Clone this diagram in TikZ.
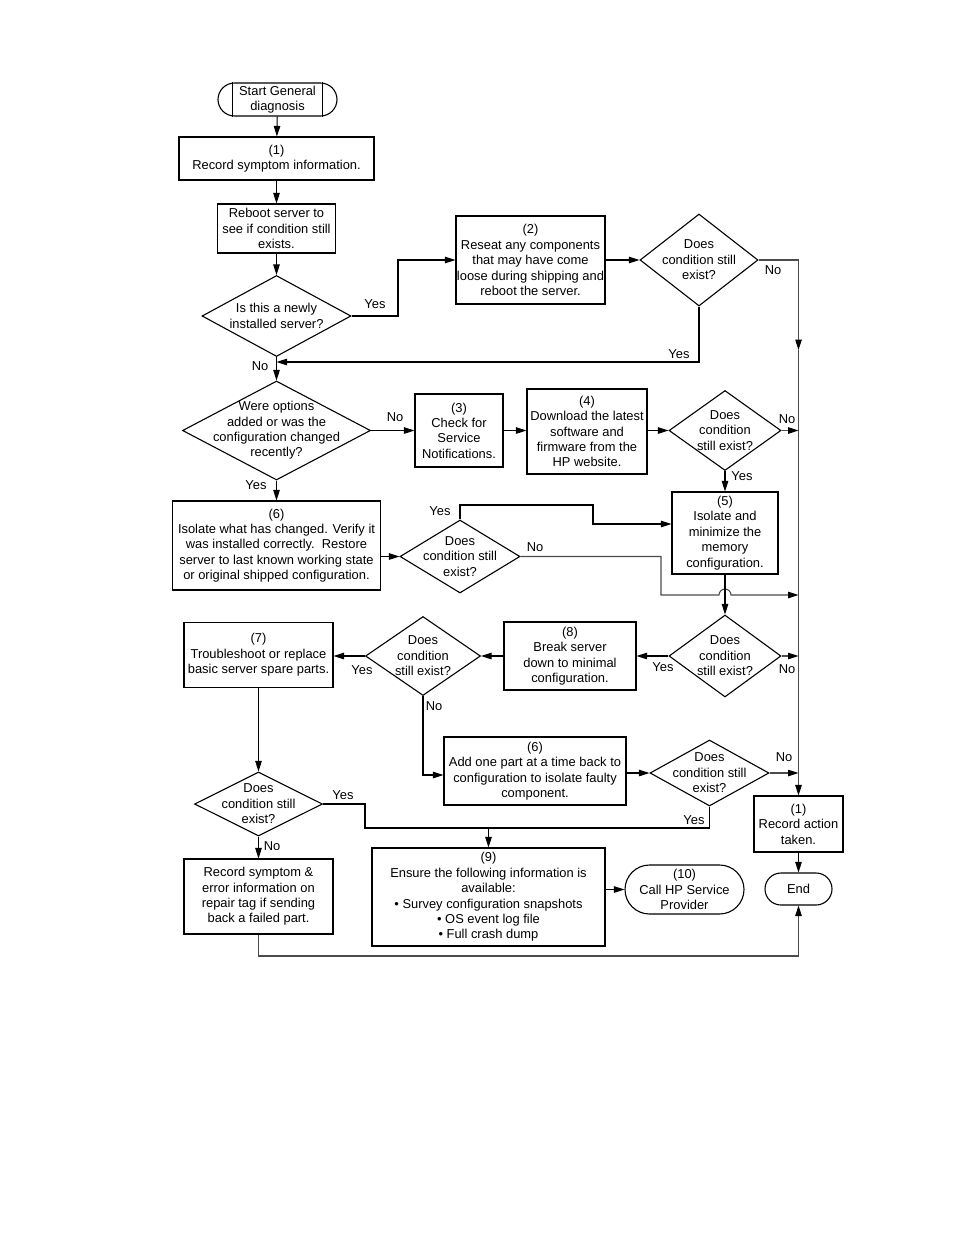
\documentclass[tikz,border=0pt]{standalone}
\usepackage{fontspec}
\setmainfont{Liberation Sans}
\usetikzlibrary{shapes.geometric}
\usetikzlibrary{arrows.meta}
\usetikzlibrary{calc}

\begin{document}
\begin{tikzpicture}[x=1pt,y=-1pt,font=\fontsize{12.9}{15.4}\selectfont,line width=1.1pt,
    box/.style={draw,rectangle,align=center,inner sep=0pt},
    term/.style={box,rounded corners=#1},
    dec/.style={draw,diamond,inner sep=0pt},
    lbl/.style={inner sep=0pt},
    arr/.style={-{Triangle[length=10.5pt,width=6.5pt]}},
    bus/.style={draw=black!70,-{Triangle[length=10.5pt,width=6.5pt,color=black]}}]
  \path[fill=white,use as bounding box] (0,0) rectangle (954,1235);
  % top: start and the newly installed check
  \node[term=16.5pt,minimum width=119,minimum height=33] (st) at (277.5,99.5) {Start General\\diagnosis};
  \draw ([xshift=15pt]st.north west) -- ([xshift=15pt]st.south west);
  \draw ([xshift=-15pt]st.north east) -- ([xshift=-15pt]st.south east);
  \node[box,minimum width=195,minimum height=43] (b1) at (276.5,158.5) {(1)\\Record symptom information.};
  \node[box,minimum width=118,minimum height=49] (rb) at (276.5,228.5) {Reboot server to\\see if condition still\\exists.};
  \node[dec,minimum width=149,minimum height=81,label={[align=center]center:{Is this a newly\\installed server?}}] (d1) at (276.5,316) {};
  \node[box,minimum width=149,minimum height=88] (b2) at (530.5,260) {(2)\\Reseat any components\\that may have come\\loose during shipping and\\reboot the server.};
  \node[dec,minimum width=118,minimum height=92,label={[align=center]center:{Does\\condition still\\exist?}}] (d2) at (699,260) {};
  % options / notifications row
  \node[dec,minimum width=188,minimum height=99,label={[align=center]center:{Were options\\added or was the\\configuration changed\\recently?}}] (d3) at (276.5,430.5) {};
  \node[box,minimum width=88,minimum height=73] (b3) at (459,430.5) {(3)\\Check for\\Service\\Notifications.};
  \node[box,minimum width=120,minimum height=85] (b4) at (587,431.5) {(4)\\Download the latest\\software and\\firmware from the\\HP website.};
  \node[dec,minimum width=112,minimum height=80,label={[align=center]center:{Does\\condition\\still exist?}}] (d4) at (725,430.5) {};
  \node[box,minimum width=106,minimum height=82] (b5) at (725,533) {(5)\\Isolate and\\minimize the\\memory\\configuration.};
  \node[box,minimum width=208,minimum height=89] (b6) at (276.5,545.5) {(6)\\Isolate what has changed. Verify it\\was installed correctly.\ \ Restore\\server to last known working state\\or original shipped configuration.};
  \node[dec,minimum width=120,minimum height=73,label={[align=center]center:{Does\\condition still\\exist?}}] (d6) at (460,556.5) {};
  % minimal configuration row
  \node[dec,minimum width=112,minimum height=82,label={[align=center]center:{Does\\condition\\still exist?}}] (d7) at (725,656) {};
  \node[box,minimum width=132,minimum height=68] (b8) at (570,656) {(8)\\Break server\\down to minimal\\configuration.};
  \node[dec,minimum width=115,minimum height=79,label={[align=center]center:{Does\\condition\\still exist?}}] (d8) at (423,656) {};
  \node[box,minimum width=149,minimum height=65] (b7) at (258.5,655) {(7)\\Troubleshoot or replace\\basic server spare parts.};
  \node[box,minimum width=182,minimum height=68] (b6a) at (535,771) {(6)\\Add one part at a time back to\\configuration to isolate faulty\\component.};
  \node[dec,minimum width=119,minimum height=66,label={[align=center]center:{Does\\condition still\\exist?}}] (d9) at (709.5,773) {};
  \node[dec,minimum width=128,minimum height=64,label={[align=center]center:{Does\\condition still\\exist?}}] (d10) at (258.5,804) {};
  % bottom row
  \node[box,minimum width=149,minimum height=75] (bR) at (258.5,896.5) {Record symptom \&\\error information on\\repair tag if sending\\back a failed part.};
  \node[box,minimum width=233,minimum height=98] (b9) at (488.5,897) {(9)\\Ensure the following information is\\available:\\\textbullet\ Survey configuration snapshots\\\textbullet\ OS event log file\\\textbullet\ Full crash dump};
  \node[term=24.5pt,minimum width=119,minimum height=49] (t10) at (684.5,889.5) {(10)\\Call HP Service\\Provider};
  \node[box,minimum width=89,minimum height=56] (rec) at (798.5,824) {(1)\\Record action\\taken.};
  \node[term=16pt,minimum width=67,minimum height=32] (te) at (798.5,889) {End};
  % connectors
  \coordinate (bustop) at (798.5,260);
  \coordinate (busmid) at (798.5,350);
  \coordinate (j1) at (276.5,362);
  \coordinate (j2) at (798.5,595);
  \coordinate (j3) at (488.5,828);
  \draw[arr] (st) -- (b1);
  \draw[arr] (b1) -- (rb);
  \draw[arr] (rb) -- (d1);
  \draw[arr] (d1.east) -- (398,316) |- (b2.west);
  \draw[arr] (b2.east) -- (d2.west);
  \draw[bus] (d2.east) -- (bustop) -- (busmid);
  \draw[bus] (busmid) -- (rec.north);
  \draw[arr] (d2.south) |- (j1);
  \draw[arr] (d1.south) -- (d3.north);
  \draw[arr] (d3.east) -- (b3.west);
  \draw[arr] (b3.east) -- (b3.east -| b4.west);
  \draw[arr] (b4.east |- d4.west) -- (d4.west);
  \draw[bus] (d4.east) -- (d4.east -| rec.north);
  \draw[arr] (d4.south) -- (b5.north);
  \draw[arr] (d3.south) -- (b6.north);
  \draw[arr] (b6.east |- d6.west) -- (d6.west);
  \draw[arr] (d6.north) |- (593,505) |- ([yshift=9pt]b5.west);
  \draw[bus] (d6.east) -- (661,556.5) -- (661,595) -- (719,595)
    arc[start angle=180,end angle=0,radius=6pt] -- (j2);
  \draw[arr] (b5.south) -- (d7.north);
  \draw[bus] (d7.east) -- (d7.east -| rec.north);
  \draw[arr] (d7.west) -- (b8.east);
  \draw[arr] (b8.west) -- (d8.east);
  \draw[arr] (d8.west) -- (d8.west -| b7.east);
  \draw[arr] (d8.south) |- ([yshift=-4pt]b6a.west);
  \draw[arr] (b6a.east |- d9.west) -- (d9.west);
  \draw[bus] (d9.east) -- (d9.east -| rec.north);
  \draw (d9.south) |- (j3);
  \draw (d10.east) -- (365,804) |- (j3);
  \draw[arr] (j3) -- (b9.north);
  \draw[arr] (b7.south) -- (d10.north);
  \draw[arr] (d10.south) -- (bR.north);
  \draw[arr] (b9.east |- t10.west) -- (t10.west);
  \draw[arr] (rec.south) -- (te.north);
  \draw[bus] (bR.south) -- (258.5,956) -| (te.south);
  % yes / no
  \node[lbl] (y1) at (375,304) {Yes};
  \node[lbl] (n2) at (773,270) {No};
  \node[lbl] (y2) at (679,354) {Yes};
  \node[lbl] (n1) at (260,366) {No};
  \node[lbl] (n3) at (395,417) {No};
  \node[lbl] (n4) at (787,419) {No};
  \node[lbl] (y4) at (742,476) {Yes};
  \node[lbl] (y3) at (256,485) {Yes};
  \node[lbl] (y6) at (440,511) {Yes};
  \node[lbl] (n6) at (535,547) {No};
  \node[lbl] (y7) at (663,667) {Yes};
  \node[lbl] (n7) at (787,669) {No};
  \node[lbl] (y8) at (362,670) {Yes};
  \node[lbl] (n8) at (434,706) {No};
  \node[lbl] (n9) at (784,757) {No};
  \node[lbl] (y9) at (694,820) {Yes};
  \node[lbl] (y10) at (343,795) {Yes};
  \node[lbl] (n10) at (272,846) {No};
\end{tikzpicture}
\end{document}
